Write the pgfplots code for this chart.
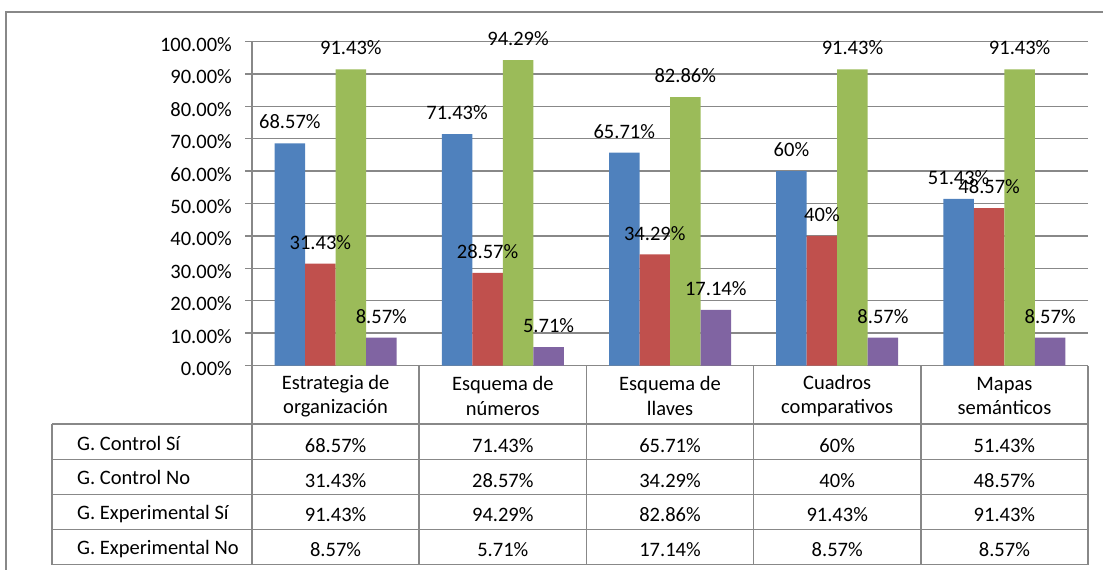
\documentclass[border=0pt]{standalone}
\usepackage{pgfplots}
\pgfplotsset{compat=1.18}
\usepackage{fontspec}
\setmainfont{Carlito}
\definecolor{cblue}{HTML}{4F81BD}
\definecolor{cred}{HTML}{C0504D}
\definecolor{cgreen}{HTML}{9BBB59}
\definecolor{cpurple}{HTML}{8064A2}
\definecolor{gridc}{HTML}{888888}
\newcommand{\fs}{\fontsize{20.5}{24.5}\selectfont}
\begin{document}
\begin{tikzpicture}
\useasboundingbox (0pt,0pt) rectangle (1103pt,-570pt);
\begin{axis}[
  at={(252pt,-365.5pt)}, anchor=south west,
  width=836pt, height=324pt, scale only axis,
  xmin=-0.5, xmax=4.5, ymin=0, ymax=100,
  enlarge x limits=false,
  ybar=0pt, bar width=30.5pt,
  separate axis lines,
  axis x line*=bottom, axis y line*=left,
  axis line style={gridc, line width=1.4pt, -},
  xtick=\empty,
  ytick={0,10,...,100},
  yticklabels={0.00\%,10.00\%,20.00\%,30.00\%,40.00\%,50.00\%,60.00\%,70.00\%,80.00\%,90.00\%,100.00\%},
  ymajorgrids, grid style={gridc, line width=1.4pt},
  tick align=outside, major tick length=7pt,
  tick style={gridc, line width=1.4pt},
  ytick pos=left,
  yticklabel style={font=\fs, inner sep=0pt, xshift=-13pt, yshift=-3pt},
  /pgf/number format/assume math mode=true,
  clip=false,
  nodes near coords={\pgfmathprintnumber[fixed,precision=2]{\pgfplotspointmeta}\%},
  every node near coord/.append style={font=\fs, text=black, inner sep=0pt, yshift=14pt},
]
\addplot[fill=cblue, draw=none] coordinates {(0,68.57) (1,71.43) (2,65.71) (3,60) (4,51.43)};
\addplot[fill=cred, draw=none] coordinates {(0,31.43) (1,28.57) (2,34.29) (3,40) (4,48.57)};
\addplot[fill=cgreen, draw=none] coordinates {(0,91.43) (1,94.29) (2,82.86) (3,91.43) (4,91.43)};
\addplot[fill=cpurple, draw=none] coordinates {(0,8.57) (1,5.71) (2,17.14) (3,8.57) (4,8.57)};
\end{axis}
\begin{scope}[x=1pt, y=-1pt]
  \draw[gridc, line width=1.5pt] (6,570) -- (6,12) -- (1103,12);
  \begin{scope}[gridc, line width=1.5pt]
    \foreach \yy in {424,459.5,494.5,529.5,564.5} \draw (52,\yy) -- (1088,\yy);
    \draw (52,424) -- (52,564.5);
    \foreach \xx in {252,419.2,586.4,753.6,920.8,1088} \draw (\xx,365.5) -- (\xx,564.5);
  \end{scope}
  \foreach \cx/\lab in {335.6/{Estrategia de\\organización},502.8/{Esquema de\\números},670/{Esquema de\\llaves},837.2/{Cuadros\\comparativos},1004.4/{Mapas\\semánticos}}
    \node[font=\fs, align=center, text=black] at (\cx,396) {\lab};
  \foreach \yy/\lab in {450/{G. Control Sí},484.5/{G. Control No},519.5/{G. Experimental Sí},554.5/{G. Experimental No}}
    \node[font=\fs, anchor=base west, inner sep=0pt, text=black] at (77,\yy) {\lab};
  \foreach \yy/\a/\b/\c/\d/\e in {
      452/68.57/71.43/65.71/60/51.43,
      487/31.43/28.57/34.29/40/48.57,
      521.5/91.43/94.29/82.86/91.43/91.43,
      556/8.57/5.71/17.14/8.57/8.57} {
    \node[font=\fs, anchor=base, inner sep=0pt] at (335.6,\yy) {\a\%};
    \node[font=\fs, anchor=base, inner sep=0pt] at (502.8,\yy) {\b\%};
    \node[font=\fs, anchor=base, inner sep=0pt] at (670,\yy) {\c\%};
    \node[font=\fs, anchor=base, inner sep=0pt] at (837.2,\yy) {\d\%};
    \node[font=\fs, anchor=base, inner sep=0pt] at (1004.4,\yy) {\e\%};
  }
\end{scope}
\end{tikzpicture}
\end{document}
